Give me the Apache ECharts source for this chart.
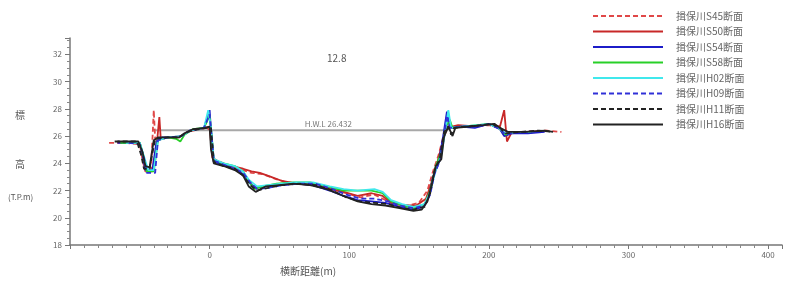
<!DOCTYPE html>
<html>
<head>
<meta charset="utf-8">
<title>揖保川 12.8 横断図</title>
<script src="https://cdn.jsdelivr.net/npm/echarts@6/dist/echarts.min.js"></script>
<style>
  html, body { margin: 0; padding: 0; background: #fff; }
  #chart { width: 796px; height: 281px; }
</style>
</head>
<body>
<div id="chart"></div>
<script>
// 各年度の横断測量 [横断距離(m), 標高(T.P.m)]
const seriesNames = [
  "揖保川S45断面", "揖保川S50断面", "揖保川S54断面", "揖保川S58断面",
  "揖保川H02断面", "揖保川H09断面", "揖保川H11断面", "揖保川H16断面"
];
const s45 = [[-72,25.5],[-60,25.5],[-50,25.4],[-48,24.2],[-46,23.4],[-42,23.4],[-40,27.9],[-39,25.8],[-30,25.9],[-22,25.9],[-16,26.3],[-8,26.5],[-2,26.6],[1,26.4],[3,24.3],[10,24.0],[18,23.7],[24,23.5],[30,23.3],[38,23.2],[46,22.9],[55,22.6],[66,22.5],[78,22.4],[88,22.1],[98,21.8],[108,21.5],[118,21.7],[124,21.4],[132,21.0],[142,20.9],[150,21.1],[156,22.0],[160,23.4],[164,24.6],[168,26.2],[171,26.7],[180,26.7],[192,26.7],[200,26.8],[208,26.6],[211,26.0],[216,26.2],[226,26.3],[240,26.4],[252,26.3]];
const s50 = [[-62,25.5],[-50,25.5],[-47,24.3],[-45,23.4],[-41,23.4],[-38,25.2],[-36,27.4],[-35,25.8],[-28,25.9],[-20,26.0],[-14,26.4],[-4,26.6],[0,26.7],[2,24.4],[8,24.0],[16,23.8],[24,23.6],[30,23.4],[36,23.3],[44,23.0],[52,22.7],[62,22.5],[74,22.4],[86,22.1],[96,21.9],[106,21.6],[116,21.8],[124,21.6],[130,21.1],[140,20.9],[148,20.9],[155,21.4],[159,22.6],[163,24.0],[167,25.6],[170,26.6],[178,26.8],[190,26.7],[200,26.9],[208,26.7],[211,27.9],[213,25.6],[216,26.2],[228,26.3],[242,26.4]];
const s54 = [[-66,25.5],[-50,25.5],[-48,24.6],[-46,23.5],[-41,23.5],[-38,25.6],[-34,25.9],[-26,25.9],[-20,26.0],[-14,26.4],[-4,26.6],[0,27.9],[1,26.4],[3,24.1],[10,23.9],[18,23.6],[24,23.2],[28,22.6],[33,22.2],[40,22.3],[50,22.4],[62,22.5],[74,22.4],[86,22.0],[96,21.6],[106,21.3],[116,21.2],[126,21.1],[136,20.8],[146,20.6],[153,20.8],[157,21.5],[160,23.0],[164,24.0],[167,25.8],[170,27.8],[172,26.6],[180,26.7],[190,26.6],[200,26.9],[208,26.5],[211,26.0],[216,26.2],[228,26.2],[240,26.3]];
const s58 = [[-64,25.5],[-50,25.5],[-47,24.4],[-45,23.4],[-40,23.4],[-37,25.7],[-30,25.9],[-24,25.8],[-21,25.6],[-18,26.1],[-12,26.5],[-4,26.6],[0,27.5],[1,26.5],[3,24.2],[10,24.0],[18,23.8],[24,23.4],[28,22.7],[32,22.1],[38,22.3],[48,22.5],[60,22.6],[72,22.6],[84,22.3],[96,22.0],[106,22.0],[116,22.0],[124,21.8],[130,21.2],[138,20.9],[146,20.7],[154,21.0],[158,22.0],[162,23.8],[166,24.8],[169,26.6],[172,27.2],[174,26.6],[182,26.7],[192,26.8],[200,26.9],[207,26.6],[212,26.1],[218,26.3],[230,26.3]];
const h02 = [[-60,25.5],[-50,25.5],[-47,24.5],[-44,23.5],[-40,23.5],[-37,25.7],[-30,25.9],[-20,26.0],[-14,26.4],[-4,26.6],[-1,27.9],[1,26.6],[3,24.3],[10,24.0],[18,23.8],[24,23.4],[28,22.8],[34,22.3],[42,22.4],[52,22.5],[62,22.6],[74,22.6],[86,22.3],[96,22.1],[106,22.0],[118,22.1],[124,21.9],[130,21.3],[138,21.0],[146,20.8],[154,21.0],[158,21.9],[162,23.5],[166,24.6],[169,26.5],[171,27.9],[173,26.6],[182,26.7],[192,26.8],[200,26.9],[207,26.6],[212,26.2],[220,26.3],[232,26.3]];
const h09 = [[-58,25.5],[-50,25.4],[-47,24.4],[-45,23.3],[-39,23.3],[-37,25.7],[-30,25.9],[-20,26.0],[-14,26.4],[-4,26.6],[0,27.6],[1,26.5],[3,24.2],[10,23.9],[18,23.6],[24,23.3],[29,22.6],[34,22.1],[42,22.2],[52,22.4],[64,22.5],[76,22.5],[88,22.1],[98,21.7],[108,21.4],[118,21.4],[128,21.2],[136,20.9],[146,20.7],[154,20.9],[158,21.7],[161,23.2],[165,24.2],[168,26.0],[170,27.5],[172,26.6],[182,26.7],[192,26.7],[200,26.9],[208,26.5],[212,26.1],[220,26.3],[234,26.3]];
const h11 = [[-68,25.6],[-52,25.6],[-49,24.6],[-47,23.6],[-43,23.6],[-39,25.8],[-30,25.9],[-22,25.9],[-16,26.3],[-8,26.5],[-2,26.6],[1,26.6],[3,24.1],[10,23.8],[18,23.6],[24,23.1],[29,22.4],[34,22.0],[42,22.2],[52,22.4],[64,22.5],[76,22.4],[88,22.0],[98,21.5],[108,21.2],[118,21.1],[128,21.0],[138,20.7],[146,20.6],[154,20.8],[158,21.8],[161,23.4],[165,24.4],[168,26.3],[171,26.7],[173,26.1],[175,26.6],[184,26.7],[194,26.8],[202,26.9],[208,26.6],[212,26.2],[222,26.3],[236,26.4],[246,26.3]];
const h16 = [[-66,25.6],[-51,25.6],[-48,24.8],[-46,23.8],[-43,23.7],[-40,25.7],[-37,25.9],[-28,25.9],[-22,25.9],[-18,26.2],[-12,26.5],[-3,26.6],[0,26.7],[1,25.0],[3,24.0],[10,23.8],[18,23.5],[24,23.1],[28,22.3],[33,21.9],[40,22.3],[50,22.4],[60,22.5],[72,22.4],[84,22.1],[96,21.6],[106,21.2],[116,21.0],[126,20.9],[136,20.7],[146,20.5],[152,20.6],[156,21.2],[159,22.4],[162,23.8],[166,24.3],[168,26.0],[171,26.7],[174,26.0],[176,26.6],[186,26.7],[196,26.8],[204,26.9],[208,26.6],[214,26.3],[226,26.3],[240,26.4],[246,26.3]];
// 計画高水位
const hwlValue = 26.432;
const hwlRange = [-40, 171];
const hwlLabelX = 85;
const sectionNo = "12.8";

const allData = [s45, s50, s54, s58, h02, h09, h11, h16];
const colors = ["#e04848", "#c82828", "#1c1cc8", "#28d028", "#40e8ec", "#3030d8", "#222222", "#222222"];
const dashed = [true, false, false, false, false, true, true, false];

const chart = echarts.init(document.getElementById("chart"));

const lineSeries = allData.map((d, i) => ({
  name: seriesNames[i],
  type: "line",
  data: d,
  symbol: "none",
  z: 3 + i,
  lineStyle: { color: colors[i], width: 1.8, type: dashed[i] ? [5, 3] : "solid" },
  itemStyle: { color: colors[i] }
}));

const option = {
  animation: false,
  textStyle: { fontFamily: "Noto Sans CJK JP" },
  title: {
    text: sectionNo,
    left: 322, top: 48,
    textStyle: { fontSize: 10, fontWeight: "normal", color: "#555" }
  },
  legend: {
    orient: "vertical",
    left: 587, top: 6,
    itemWidth: 70, itemHeight: 12, itemGap: 5.5,
    data: seriesNames,
    itemStyle: { opacity: 0 },
    textStyle: { fontSize: 10, color: "#666", padding: [0, 0, 0, 8] }
  },
  grid: { left: 70, right: 14, top: 38, bottom: 36 },
  xAxis: {
    type: "value",
    min: -100, max: 410, interval: 100,
    axisLine: { onZero: false, lineStyle: { color: "#777", width: 1.5 } },
    axisTick: { length: 4, lineStyle: { color: "#777" } },
    minorTick: { show: true, splitNumber: 10, length: 3, lineStyle: { color: "#888" } },
    axisLabel: {
      fontSize: 8, color: "#666", margin: 6,
      formatter: v => (v < 0 || v > 400 ? "" : String(v))
    },
    splitLine: { show: false }
  },
  yAxis: {
    type: "value",
    min: 18, max: 33.2, interval: 2,
    axisLine: { show: true, onZero: false, lineStyle: { color: "#777", width: 1.5 } },
    axisTick: { show: true, length: 5, lineStyle: { color: "#777" } },
    minorTick: { show: true, splitNumber: 4, length: 3, lineStyle: { color: "#888" } },
    axisLabel: { fontSize: 8, color: "#666", margin: 8, showMaxLabel: false },
    splitLine: { show: false }
  },
  graphic: [
    { type: "text", left: 15, top: 110, style: { text: "標", fontSize: 10, fill: "#555", fontFamily: "Noto Sans CJK JP" } },
    { type: "text", left: 15, top: 159, style: { text: "高", fontSize: 10, fill: "#555", fontFamily: "Noto Sans CJK JP" } },
    { type: "text", left: 8, top: 193, style: { text: "(T.P.m)", fontSize: 8, fill: "#555", fontFamily: "Noto Sans CJK JP" } },
    { type: "text", left: 280, top: 266, style: { text: "横断距離(m)", fontSize: 10, fill: "#555", fontFamily: "Noto Sans CJK JP" } }
  ],
  series: [
    {
      name: "H.W.L",
      type: "line",
      data: [[hwlRange[0], hwlValue], [hwlRange[1], hwlValue]],
      symbol: "none",
      z: 2,
      silent: true,
      lineStyle: { color: "#a8a8a8", width: 2 }
    },
    {
      name: "H.W.L label",
      type: "scatter",
      data: [[hwlLabelX, hwlValue]],
      symbolSize: 0,
      z: 2,
      label: {
        show: true, position: "top", distance: 2,
        formatter: "H.W.L " + hwlValue,
        fontSize: 8, color: "#555"
      }
    }
  ].concat(lineSeries)
};

chart.setOption(option);
</script>
</body>
</html>
